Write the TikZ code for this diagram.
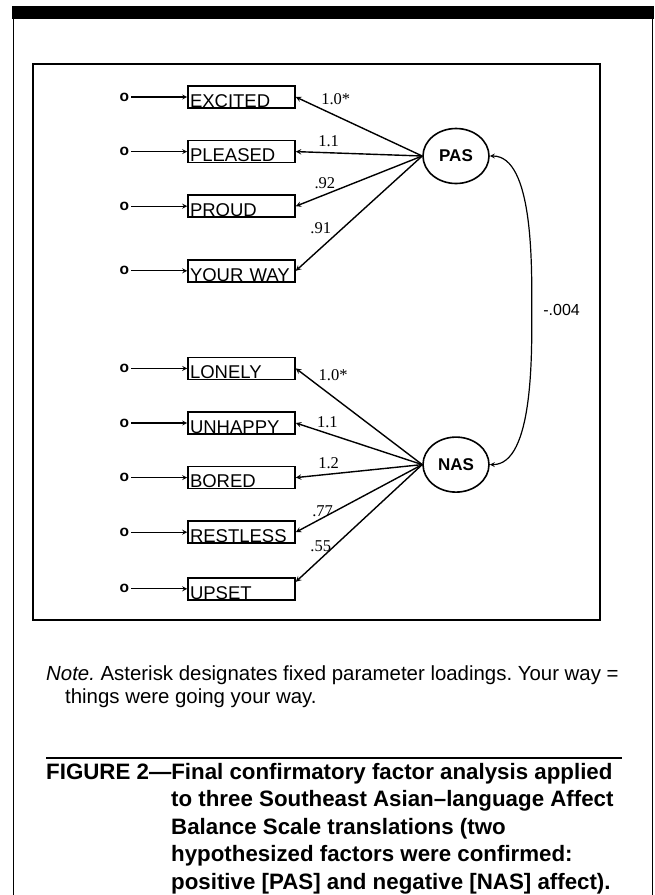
\documentclass[tikz,border=0pt]{standalone}
\usepackage{fontspec}
\setmainfont{Liberation Sans}
\newfontfamily\timesfont{Liberation Serif}
\usetikzlibrary{shapes,arrows,positioning}
\frenchspacing

\begin{document}
\begin{tikzpicture}[
  x=1pt, y=1pt,
  node distance=31pt,
  item/.style={
    draw, rectangle, line width=1.6pt, minimum width=107pt, minimum height=22pt,
    text width=103pt, inner xsep=2pt, inner ysep=0pt, align=left,
    text height=20.5pt, text depth=0pt, font=\fontsize{18.5}{18.5}\selectfont
  },
  factor/.style={
    draw, ellipse, line width=1.6pt, minimum width=66pt, minimum height=55pt,
    inner sep=0pt, font=\fontsize{17}{17}\selectfont\bfseries
  },
  err/.style={inner sep=2pt, font=\fontsize{15.5}{15.5}\selectfont\bfseries},
  load/.style={inner sep=2pt, font=\timesfont\fontsize{16.5}{16.5}\selectfont},
  arrow/.style={->, >=stealth, line width=1.4pt},
  covar/.style={<->, >=stealth, line width=1.2pt}
]

\useasboundingbox (0,0) rectangle (655,-895);

% Page frame
\fill (12,-6) rectangle (654,-19);
\draw[line width=1.5pt] (13.5,-19) -- (13.5,-895) (652.5,-19) -- (652.5,-895);
\draw[line width=1.6pt] (33,-64) rectangle (600,-620);

% Indicators of PAS
\node[item] (excited) at (241.5,-97) {EXCITED};
\node[item, below=of excited] (pleased) {PLEASED};
\node[item, below=of pleased] (proud) {PROUD};
\node[item, below=41pt of proud] (yourway) {YOUR WAY};

% Indicators of NAS
\node[item, below=74pt of yourway] (lonely) {LONELY};
\node[item, below=of lonely] (unhappy) {UNHAPPY};
\node[item, below=of unhappy] (bored) {BORED};
\node[item, below=of bored] (restless) {RESTLESS};
\node[item, below=33pt of restless] (upset) {UPSET};

% Error terms
\node[err, left=56pt of excited] (e1) {o};
\node[err, left=56pt of pleased] (e2) {o};
\node[err, left=56pt of proud] (e3) {o};
\node[err, left=56pt of yourway] (e4) {o};
\node[err, left=56pt of lonely] (e5) {o};
\node[err, left=56pt of unhappy] (e6) {o};
\node[err, left=56pt of bored] (e7) {o};
\node[err, left=56pt of restless] (e8) {o};
\node[err, left=56pt of upset] (e9) {o};

\draw[arrow, line width=1.2pt] (e1) -- (excited);
\draw[arrow, line width=1.2pt] (e2) -- (pleased);
\draw[arrow, line width=1.2pt] (e3) -- (proud);
\draw[arrow, line width=1.2pt] (e4) -- (yourway);
\draw[arrow, line width=1.2pt] (e5) -- (lonely);
\draw[arrow, line width=1.2pt] (e6) -- (unhappy);
\draw[arrow, line width=1.2pt] (e7) -- (bored);
\draw[arrow, line width=1.2pt] (e8) -- (restless);
\draw[arrow, line width=1.2pt] (e9) -- (upset);

% Latent factors
\node[factor] (pas) at (456,-156) {PAS};
\node[factor, below=252pt of pas] (nas) {NAS};

% Loadings
\draw[arrow] (pas.west) -- (excited.east) node[load, pos=0.82, above right] {1.0*};
\draw[arrow] (pas.west) -- (pleased.east) node[load, pos=0.74, above=3pt] {1.1};
\draw[arrow] (pas.west) -- (proud.east) node[load, pos=0.77, above=3pt] {.92};
\draw[arrow] (pas.west) -- (yourway.east) node[load, pos=0.70, above left] {.91};

\draw[arrow] (nas.west) -- (lonely.east) node[load, pos=0.84, above right] {1.0*};
\draw[arrow] (nas.west) -- (unhappy.east) node[load, pos=0.75, above=3pt] {1.1};
\draw[arrow] (nas.west) -- (bored.east) node[load, pos=0.74, above=3pt] {1.2};
\draw[arrow] (nas.west) -- (restless.east) node[load, pos=0.685, left] {.77};
\draw[arrow] (nas.west) -- ([yshift=7pt]upset.east) node[load, pos=0.70, left] {.55};

% Factor covariance
\draw[covar] (pas.east) to[out=0, in=90, looseness=0.7]
  node[pos=1, right=9pt, inner sep=2pt, font=\fontsize{16}{16}\selectfont] {-.004} ++(42,-154)
  to[out=-90, in=0, looseness=0.7] (nas.east);

% Note and caption
\node[anchor=base west, inner sep=0pt, font=\fontsize{20.4}{23}\selectfont] (note) at (46,-680)
  {\parbox[t]{600pt}{\raggedright\hangindent=19pt\hangafter=1\noindent
   \textit{Note.} Asterisk designates fixed parameter loadings. Your way =\break
   things were going your way.}};
\draw[line width=2.2pt] (46,-758) -- (622,-758);
\node[anchor=base west, inner sep=0pt, font=\fontsize{22.3}{27.5}\selectfont\bfseries] (caption) at (46,-779)
  {\parbox[t]{600pt}{\raggedright\hangindent=125pt\hangafter=1\noindent
   FIGURE 2---Final confirmatory factor analysis applied\break
   to three Southeast Asian--language Affect\break
   Balance Scale translations (two\break
   hypothesized factors were confirmed:\break
   positive [PAS] and negative [NAS] affect).}};

\end{tikzpicture}
\end{document}
